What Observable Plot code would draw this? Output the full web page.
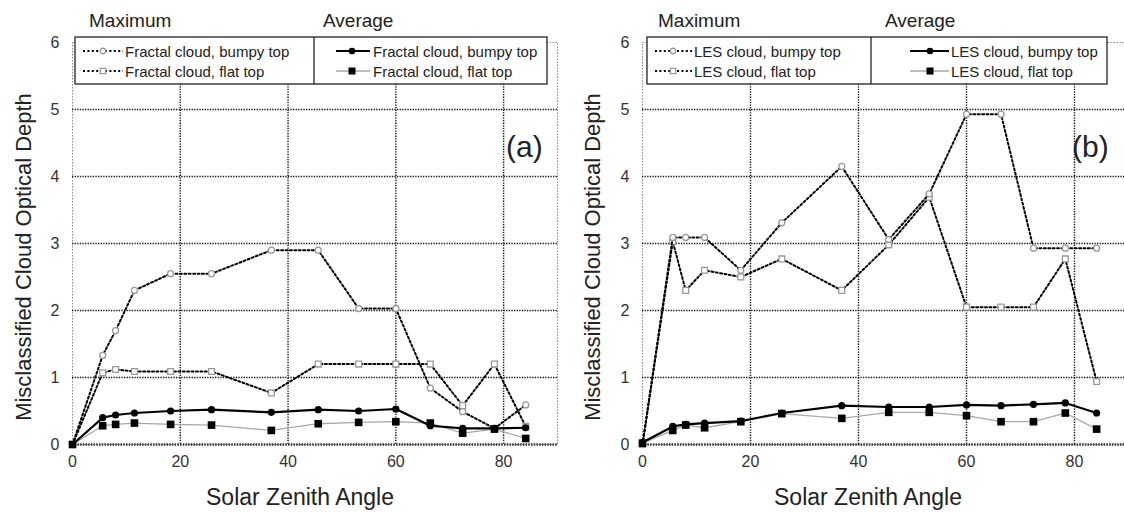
<!DOCTYPE html>
<html><head><meta charset="utf-8">
<script src="https://cdn.jsdelivr.net/npm/d3@7"></script>
<script src="https://cdn.jsdelivr.net/npm/@observablehq/plot@0.6"></script>
<style>
html,body{margin:0;padding:0;background:#fff;}
#wrap{position:relative;width:1124px;height:514px;overflow:hidden;background:#fff;font-family:"Liberation Sans",Arial,sans-serif;}
.panel{position:absolute;top:0;}
#overlay{position:absolute;left:0;top:0;}
</style></head><body><div id="wrap"></div>
<script>
// Solar zenith angles (x values), shared by both panels
const angles = [0, 5.6, 8.0, 11.5, 18.2, 25.8, 36.9, 45.6, 53.1, 60, 66.4, 72.4, 78.3, 84.1];

// Panel (a): fractal cloud
const fractalMaxBumpy = [0, 1.33, 1.70, 2.30, 2.55, 2.55, 2.90, 2.90, 2.03, 2.03, 0.84, 0.49, 0.24, 0.59];
const fractalMaxFlat  = [0, 1.07, 1.12, 1.09, 1.09, 1.09, 0.77, 1.20, 1.20, 1.20, 1.20, 0.58, 1.20, 0.27];
const fractalAvgBumpy = [0, 0.40, 0.44, 0.47, 0.50, 0.52, 0.48, 0.52, 0.50, 0.53, 0.28, 0.24, 0.24, 0.25];
const fractalAvgFlat  = [0, 0.28, 0.30, 0.32, 0.30, 0.29, 0.21, 0.31, 0.33, 0.34, 0.32, 0.17, 0.23, 0.09];

// Panel (b): LES cloud
const lesMaxBumpy = [0, 3.09, 3.09, 3.09, 2.60, 3.31, 4.15, 3.06, 3.74, 4.93, 4.93, 2.93, 2.93, 2.93];
const lesMaxFlat  = [0, 3.03, 2.30, 2.60, 2.50, 2.77, 2.30, 2.98, 3.69, 2.05, 2.05, 2.05, 2.77, 0.94];
const lesAvgBumpy = [0.03, 0.27, 0.30, 0.32, 0.35, 0.47, 0.58, 0.56, 0.56, 0.59, 0.58, 0.60, 0.62, 0.47];
const lesAvgFlat  = [0.02, 0.21, 0.29, 0.25, 0.34, 0.46, 0.39, 0.48, 0.48, 0.43, 0.34, 0.34, 0.47, 0.23];

const xTicks = [0, 20, 40, 60, 80];
const yTicks = [0, 1, 2, 3, 4, 5, 6];

const xTitle = "Solar Zenith Angle";
const yTitle = "Misclassified Cloud Optical Depth";
const groupLabels = ["Maximum", "Average"];
const seriesLabelsA = ["Fractal cloud, bumpy top", "Fractal cloud, flat top"];
const seriesLabelsB = ["LES cloud, bumpy top", "LES cloud, flat top"];
const panelLabels = ["(a)", "(b)"];

const FONT = '"Liberation Sans", Arial, sans-serif';

const styles = {
  maxBumpy: {line: {stroke: "#000", strokeWidth: 2, strokeDasharray: "2,2.4"}, dot: {symbol: "circle", r: 3, fill: "#fff", stroke: "#999", strokeWidth: 1.3}},
  maxFlat:  {line: {stroke: "#000", strokeWidth: 2, strokeDasharray: "2,2.4"}, dot: {symbol: "square", r: 3.3, fill: "#fff", stroke: "#999", strokeWidth: 1.3}},
  avgBumpy: {line: {stroke: "#000", strokeWidth: 2.2}, dot: {symbol: "circle", r: 3.6, fill: "#000", stroke: "none"}},
  avgFlat:  {line: {stroke: "#a8a8a8", strokeWidth: 1.3}, dot: {symbol: "square", r: 4.3, fill: "#000", stroke: "none"}}
};

function rows(values) { return angles.map((a, i) => ({angle: a, value: values[i]})); }

function makePanel(series, cfg) {
  const marks = [
    Plot.frame({stroke: "#8a8a8a", strokeDasharray: "1.5,1.5"}),
    Plot.gridX(xTicks.filter(d => d > 0), {stroke: "#111", strokeOpacity: 1, strokeWidth: 1.4, strokeDasharray: "1.3,1.3"}),
    Plot.gridY(yTicks.filter(d => d > 0 && d < 6), {stroke: "#111", strokeOpacity: 1, strokeWidth: 1.4, strokeDasharray: "1.3,1.3"}),
    Plot.ruleY([0], {stroke: "#333", strokeWidth: 2.6, strokeDasharray: "1.5,1.2"})
  ];
  for (const key of ["maxFlat", "maxBumpy", "avgFlat", "avgBumpy"]) {
    const data = rows(series[key]);
    marks.push(Plot.line(data, {x: "angle", y: "value", ...styles[key].line}));
    marks.push(Plot.dot(data, {x: "angle", y: "value", ...styles[key].dot}));
  }
  marks.push(Plot.axisX(xTicks, {tickSize: 0, tickPadding: 11, label: null, fontSize: 16, fill: "#333", tickFormat: d3.format("d")}));
  marks.push(Plot.axisY(yTicks, {tickSize: 0, tickPadding: 13, label: null, fontSize: 16, fill: "#333", tickFormat: d3.format("d")}));
  const svg = Plot.plot({
    width: cfg.width, height: 514,
    marginLeft: cfg.marginLeft, marginRight: cfg.marginRight, marginTop: 42, marginBottom: 70,
    x: {domain: [0, 90]},
    y: {domain: [0, 6]},
    style: {fontFamily: FONT, fontSize: "16px", background: "transparent", color: "#333", overflow: "visible"},
    marks
  });
  svg.classList.add("panel");
  svg.style.left = cfg.left + "px";
  return svg;
}

const wrap = document.getElementById("wrap");
wrap.appendChild(makePanel({maxBumpy: fractalMaxBumpy, maxFlat: fractalMaxFlat, avgBumpy: fractalAvgBumpy, avgFlat: fractalAvgFlat},
  {left: 0, width: 562, marginLeft: 72, marginRight: 5}));
wrap.appendChild(makePanel({maxBumpy: lesMaxBumpy, maxFlat: lesMaxFlat, avgBumpy: lesAvgBumpy, avgFlat: lesAvgFlat},
  {left: 562, width: 566, marginLeft: 80, marginRight: 0}));

// Overlay: group headers, legends, panel letters and axis titles
const ov = d3.select(wrap).append("svg").attr("id", "overlay")
  .attr("width", 1124).attr("height", 514)
  .style("font-family", FONT);

const layouts = [
  {labels: seriesLabelsA, letter: panelLabels[0], maxX: 89, avgX: 323, box: [75, 547], div: 314,
   lc: [83, 123, 103, 125], rc: [336, 370, 352, 373], letterX: 506, yTitleX: 31, xTitleX: 300},
  {labels: seriesLabelsB, letter: panelLabels[1], maxX: 658, avgX: 885, box: [647, 1107], div: 871,
   lc: [655, 692, 673, 694], rc: [910, 949, 930, 951], letterX: 1072, yTitleX: 600, xTitleX: 868}
];

const rowBase = [56.5, 76.5];
for (const L of layouts) {
  ov.append("text").attr("x", L.maxX).attr("y", 27).attr("font-size", 19).attr("fill", "#222").text(groupLabels[0]);
  ov.append("text").attr("x", L.avgX).attr("y", 27).attr("font-size", 19).attr("fill", "#222").text(groupLabels[1]);
  ov.append("rect").attr("x", L.box[0]).attr("y", 37).attr("width", L.box[1] - L.box[0]).attr("height", 47)
    .attr("fill", "#fff").attr("stroke", "#222").attr("stroke-width", 1.3);
  ov.append("line").attr("x1", L.div).attr("x2", L.div).attr("y1", 37).attr("y2", 84).attr("stroke", "#222").attr("stroke-width", 1.3);
  const cols = [
    {c: L.lc, keys: ["maxBumpy", "maxFlat"]},
    {c: L.rc, keys: ["avgBumpy", "avgFlat"]}
  ];
  for (const col of cols) {
    col.keys.forEach((key, i) => {
      const yy = rowBase[i] - 5.5;
      const st = styles[key];
      ov.append("line").attr("x1", col.c[0]).attr("x2", col.c[1]).attr("y1", yy).attr("y2", yy)
        .attr("stroke", st.line.stroke).attr("stroke-width", st.line.strokeWidth)
        .attr("stroke-dasharray", st.line.strokeDasharray || null);
      const sym = d3.symbol(st.dot.symbol === "circle" ? d3.symbolCircle : d3.symbolSquare, Math.PI * st.dot.r * st.dot.r * 0.85);
      ov.append("path").attr("d", sym()).attr("transform", `translate(${col.c[2]},${yy})`)
        .attr("fill", st.dot.fill).attr("stroke", st.dot.stroke).attr("stroke-width", st.dot.strokeWidth || 0);
      ov.append("text").attr("x", col.c[3]).attr("y", rowBase[i]).attr("font-size", 15).attr("fill", "#222").text(L.labels[i]);
    });
  }
  ov.append("text").attr("x", L.letterX).attr("y", 157).attr("font-size", 30).attr("fill", "#222").text(L.letter);
  ov.append("text").attr("transform", `translate(${L.yTitleX},257) rotate(-90)`).attr("text-anchor", "middle")
    .attr("font-size", 22).attr("fill", "#222").text(yTitle);
  ov.append("text").attr("x", L.xTitleX).attr("y", 505).attr("text-anchor", "middle")
    .attr("font-size", 23).attr("fill", "#222").text(xTitle);
}
</script></body></html>
